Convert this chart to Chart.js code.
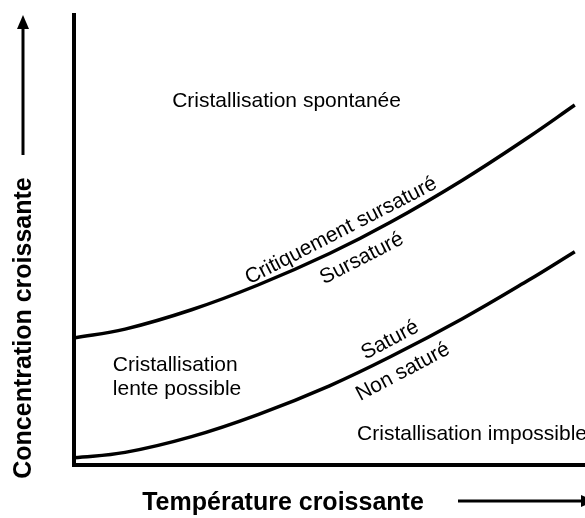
<!DOCTYPE html>
<html>
<head>
<meta charset="utf-8">
<script src="https://cdn.jsdelivr.net/npm/chart.js@4"></script>
<style>
  html, body { margin: 0; padding: 0; background: #fff; }
  #wrap { width: 585px; height: 518px; position: relative; }
</style>
</head>
<body>
<div id="wrap"><canvas id="c"></canvas></div>
<script>
// ---- data (arbitrary units 0..100) ----
const temperature = [0, 10, 23, 36, 50, 62, 76, 89, 98];
const critique    = [28.2, 30.2, 34.5, 40.0, 47.0, 54.0, 63.3, 72.9, 80.0];
const saturation  = [1.6, 2.8, 6.3, 11.2, 17.6, 24.1, 32.5, 41.1, 47.4];

const xTitle = 'Température croissante';
const yTitle = 'Concentration croissante';

// region labels
const regionTexts  = ['Cristallisation spontanée', 'Cristallisation', 'lente possible', 'Cristallisation impossible'];
const regionX      = [41.6, 7.6, 7.6, 55.4];
const regionY      = [79.6, 20.9, 15.6, 5.6];
const regionAlign  = ['center', 'left', 'left', 'left'];

// curve labels
const curveTexts   = ['Critiquement sursaturé', 'Sursaturé', 'Saturé', 'Non saturé'];
const curveSeries  = [0, 0, 1, 1];
const curveAt      = [53.6, 54.6, 63.2, 62.6];
const curveSide    = ['above', 'below', 'above', 'below'];

const FONT = '"Liberation Sans", Arial, Helvetica, sans-serif';

function curvePoint(chart, ds, xVal) {
  const px = chart.scales.x.getPixelForValue(xVal);
  const pts = chart.getDatasetMeta(ds).data;
  for (let i = 0; i < pts.length - 1; i++) {
    const a = pts[i], b = pts[i + 1];
    if (px >= a.x && px <= b.x) {
      const t = (px - a.x) / (b.x - a.x);
      return { x: px, y: a.y + t * (b.y - a.y), angle: Math.atan2(b.y - a.y, b.x - a.x) };
    }
  }
  return null;
}

const decor = {
  id: 'decor',
  afterDraw(chart) {
    const ctx = chart.ctx;
    const xs = chart.scales.x, ys = chart.scales.y;
    ctx.save();
    ctx.fillStyle = '#000';
    ctx.strokeStyle = '#000';

    // region labels
    ctx.font = '21px ' + FONT;
    ctx.textBaseline = 'alphabetic';
    regionTexts.forEach((t, i) => {
      ctx.textAlign = regionAlign[i];
      ctx.fillText(t, xs.getPixelForValue(regionX[i]), ys.getPixelForValue(regionY[i]));
    });

    // curve labels
    curveTexts.forEach((t, i) => {
      const p = curvePoint(chart, curveSeries[i], curveAt[i]);
      if (!p) return;
      const nx = Math.sin(p.angle), ny = -Math.cos(p.angle);
      const off = curveSide[i] === 'above' ? 9 : -25;
      ctx.save();
      ctx.translate(p.x + nx * off, p.y + ny * off);
      ctx.rotate(p.angle);
      ctx.textAlign = 'center';
      ctx.fillText(t, 0, 0);
      ctx.restore();
    });

    // axis titles
    ctx.font = 'bold 25px ' + FONT;
    ctx.textAlign = 'center';
    ctx.textBaseline = 'middle';
    ctx.fillText(xTitle, 283, 503);
    ctx.save();
    ctx.translate(24, 328);
    ctx.rotate(-Math.PI / 2);
    ctx.fillText(yTitle, 0, 0);
    ctx.restore();

    // arrows
    ctx.lineWidth = 3;
    ctx.beginPath();
    ctx.moveTo(23, 155); ctx.lineTo(23, 26);
    ctx.stroke();
    ctx.beginPath();
    ctx.moveTo(23, 15); ctx.lineTo(17, 29); ctx.lineTo(29, 29); ctx.closePath();
    ctx.fill();

    ctx.beginPath();
    ctx.moveTo(458, 501); ctx.lineTo(583, 501);
    ctx.stroke();
    ctx.beginPath();
    ctx.moveTo(595, 501); ctx.lineTo(581, 495); ctx.lineTo(581, 507); ctx.closePath();
    ctx.fill();
    ctx.restore();
  }
};

const mk = (ys) => temperature.map((x, i) => ({ x: x, y: ys[i] }));

new Chart(document.getElementById('c'), {
  type: 'line',
  data: {
    datasets: [
      { label: 'Critique', data: mk(critique), borderColor: '#000', borderWidth: 3.5,
        pointRadius: 0, tension: 0.4, fill: false },
      { label: 'Saturation', data: mk(saturation), borderColor: '#000', borderWidth: 3.5,
        pointRadius: 0, tension: 0.4, fill: false }
    ]
  },
  options: {
    responsive: true,
    maintainAspectRatio: false,
    animation: false,
    devicePixelRatio: 1,
    layout: { padding: { left: 74, top: 15, right: 0, bottom: 53 } },
    plugins: { legend: { display: false }, tooltip: { enabled: false } },
    scales: {
      x: { type: 'linear', min: 0, max: 100,
           grid: { display: false, drawTicks: false },
           ticks: { display: false },
           border: { display: true, width: 4, color: '#000' } },
      y: { type: 'linear', min: 0, max: 100,
           grid: { display: false, drawTicks: false },
           ticks: { display: false },
           border: { display: true, width: 4, color: '#000' } }
    }
  },
  plugins: [decor]
});
</script>
</body>
</html>
